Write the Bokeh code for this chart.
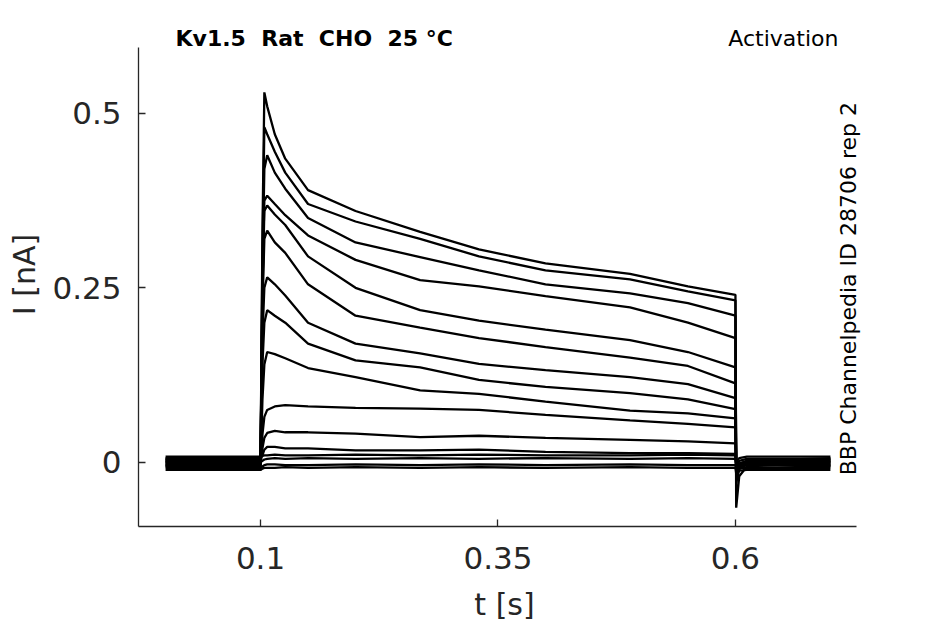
from bokeh.plotting import figure
from bokeh.models import FixedTicker, Label, Range1d
from bokeh.embed import file_html
from bokeh.resources import INLINE
import math

t = [0.0, 0.1, 0.102, 0.104, 0.107, 0.115, 0.126, 0.15, 0.2, 0.268, 0.33,
     0.4, 0.489, 0.55, 0.6, 0.6008, 0.604, 0.612, 0.7]

# current (nA) of each sweep at those time points
sweep_a = [0.0, 0.0, 0.33, 0.53, 0.51, 0.47, 0.435, 0.39, 0.36, 0.33, 0.305, 0.285, 0.27, 0.252, 0.24, -0.065, -0.02, -0.006, 0.0]
sweep_b = [0.002, 0.002, 0.30, 0.48, 0.47, 0.445, 0.415, 0.37, 0.345, 0.32, 0.295, 0.275, 0.262, 0.245, 0.232, -0.03, -0.01, -0.003, 0.002]
sweep_c = [-0.003, -0.003, 0.27, 0.42, 0.44, 0.415, 0.392, 0.35, 0.315, 0.294, 0.275, 0.255, 0.242, 0.228, 0.21, -0.025, -0.008, -0.002, -0.003]
sweep_d = [0.004, 0.004, 0.25, 0.375, 0.382, 0.37, 0.354, 0.325, 0.29, 0.261, 0.252, 0.238, 0.222, 0.20, 0.178, -0.02, -0.006, 0.0, 0.004]
sweep_e = [-0.005, -0.005, 0.24, 0.36, 0.368, 0.355, 0.34, 0.295, 0.25, 0.218, 0.203, 0.19, 0.175, 0.158, 0.136, -0.018, -0.006, -0.002, -0.005]
sweep_f = [0.006, 0.006, 0.22, 0.32, 0.332, 0.315, 0.30, 0.255, 0.21, 0.193, 0.178, 0.165, 0.15, 0.138, 0.113, -0.015, -0.004, 0.002, 0.006]
sweep_g = [-0.002, -0.002, 0.18, 0.25, 0.265, 0.255, 0.239, 0.20, 0.17, 0.156, 0.141, 0.132, 0.122, 0.112, 0.092, -0.012, -0.004, -0.002, -0.002]
sweep_h = [0.003, 0.003, 0.14, 0.20, 0.218, 0.21, 0.20, 0.17, 0.146, 0.136, 0.118, 0.108, 0.099, 0.09, 0.076, -0.01, -0.002, 0.002, 0.003]
sweep_i = [-0.006, -0.006, 0.09, 0.14, 0.158, 0.155, 0.149, 0.135, 0.122, 0.103, 0.098, 0.087, 0.074, 0.07, 0.063, -0.012, -0.006, -0.004, -0.006]
sweep_j = [0.001, 0.001, 0.04, 0.065, 0.075, 0.08, 0.082, 0.08, 0.078, 0.077, 0.075, 0.068, 0.06, 0.055, 0.05, -0.008, -0.002, 0.001, 0.001]
sweep_k = [-0.004, -0.004, 0.02, 0.035, 0.042, 0.045, 0.043, 0.043, 0.041, 0.036, 0.038, 0.035, 0.032, 0.03, 0.027, -0.008, -0.004, -0.004, -0.004]
sweep_l = [0.005, 0.005, 0.01, 0.018, 0.022, 0.022, 0.02, 0.02, 0.017, 0.017, 0.018, 0.015, 0.013, 0.013, 0.012, -0.004, 0.002, 0.005, 0.005]
sweep_m = [-0.008, -0.008, -0.006, -0.004, -0.003, -0.003, -0.004, -0.004, -0.003, -0.004, -0.003, -0.004, -0.003, -0.004, -0.004, -0.012, -0.008, -0.008, -0.008]
sweep_n = [0.008, 0.008, 0.009, 0.010, 0.010, 0.011, 0.010, 0.010, 0.011, 0.010, 0.011, 0.010, 0.010, 0.011, 0.010, 0.0, 0.006, 0.008, 0.008]
sweep_o = [0.0, 0.0, 0.002, 0.004, 0.005, 0.006, 0.005, 0.006, 0.005, 0.006, 0.005, 0.006, 0.005, 0.006, 0.005, -0.006, -0.002, 0.0, 0.0]
sweep_p = [-0.011, -0.011, -0.009, -0.008, -0.008, -0.008, -0.007, -0.008, -0.007, -0.008, -0.007, -0.008, -0.007, -0.008, -0.008, -0.016, -0.012, -0.011, -0.011]

sweeps = [sweep_a, sweep_b, sweep_c, sweep_d, sweep_e, sweep_f, sweep_g, sweep_h,
          sweep_i, sweep_j, sweep_k, sweep_l, sweep_m, sweep_n, sweep_o, sweep_p]

x_ticks = [0.1, 0.35, 0.6]
x_tick_labels = ["0.1", "0.35", "0.6"]
y_ticks = [0, 0.25, 0.5]
y_tick_labels = ["0", "0.25", "0.5"]

NB = "\u00a0"
title_text = "Kv1.5 " + NB + "Rat " + NB + "CHO " + NB + "25 °C"
protocol_text = "Activation"
side_text = "BBP Channelpedia ID 28706 rep 2"

FONT = "DejaVu Sans"
INK = "#262626"

X_AXIS = (-0.0285, 0.7275)
Y_AXIS = (-0.092, 0.594)
TEXT_Y = 0.607
p = figure(frame_width=732, frame_height=504,
           min_border_left=138, min_border_right=67,
           min_border_top=22, min_border_bottom=90,
           x_range=Range1d(X_AXIS[0], 0.7422), y_range=Range1d(Y_AXIS[0], 0.6301),
           output_backend="svg", toolbar_location=None, tools="")

for s in sweeps:
    p.line(t, s, line_color="black", line_width=2.3)

p.xgrid.visible = False
p.ygrid.visible = False
p.outline_line_color = None
p.background_fill_color = "white"
p.border_fill_color = "white"

for ax in (p.xaxis[0], p.yaxis[0]):
    ax.axis_line_color = INK
    ax.axis_line_width = 1.3
    ax.major_tick_line_color = INK
    ax.major_tick_line_width = 1.3
    ax.major_tick_in = 7
    ax.major_tick_out = 0
    ax.minor_tick_line_color = None
    ax.major_label_text_font = FONT
    ax.major_label_text_font_size = "31px"
    ax.major_label_text_color = INK
    ax.axis_label_text_font = FONT
    ax.axis_label_text_font_size = "30px"
    ax.axis_label_text_font_style = "normal"
    ax.axis_label_text_color = INK

p.xaxis[0].bounds = X_AXIS
p.yaxis[0].bounds = Y_AXIS

p.xaxis[0].ticker = FixedTicker(ticks=x_ticks)
p.xaxis[0].major_label_overrides = {v: s for v, s in zip(x_ticks, x_tick_labels)}
p.xaxis[0].axis_label = "t [s]"
p.xaxis[0].major_label_standoff = 20
p.xaxis[0].axis_label_standoff = 15

p.yaxis[0].ticker = FixedTicker(ticks=y_ticks)
p.yaxis[0].major_label_overrides = {v: s for v, s in zip(y_ticks, y_tick_labels)}
p.yaxis[0].axis_label = "I [nA]"
p.yaxis[0].major_label_standoff = 17
p.yaxis[0].axis_label_standoff = 7

p.add_layout(Label(x=0.0105, y=TEXT_Y, text=title_text, text_font=FONT,
                   text_font_size="22px", text_font_style="bold",
                   text_color="black", text_baseline="alphabetic"))
p.add_layout(Label(x=0.7085, y=TEXT_Y, text=protocol_text, text_font=FONT,
                   text_font_size="22px", text_color="black",
                   text_align="right", text_baseline="alphabetic"))
p.add_layout(Label(x=0.7195, y=-0.0186, text=side_text, text_font=FONT,
                   text_font_size="22px", text_color="black",
                   angle=math.pi / 2, text_align="left", text_baseline="middle"))

open("out.html", "w").write(file_html(p, INLINE))
